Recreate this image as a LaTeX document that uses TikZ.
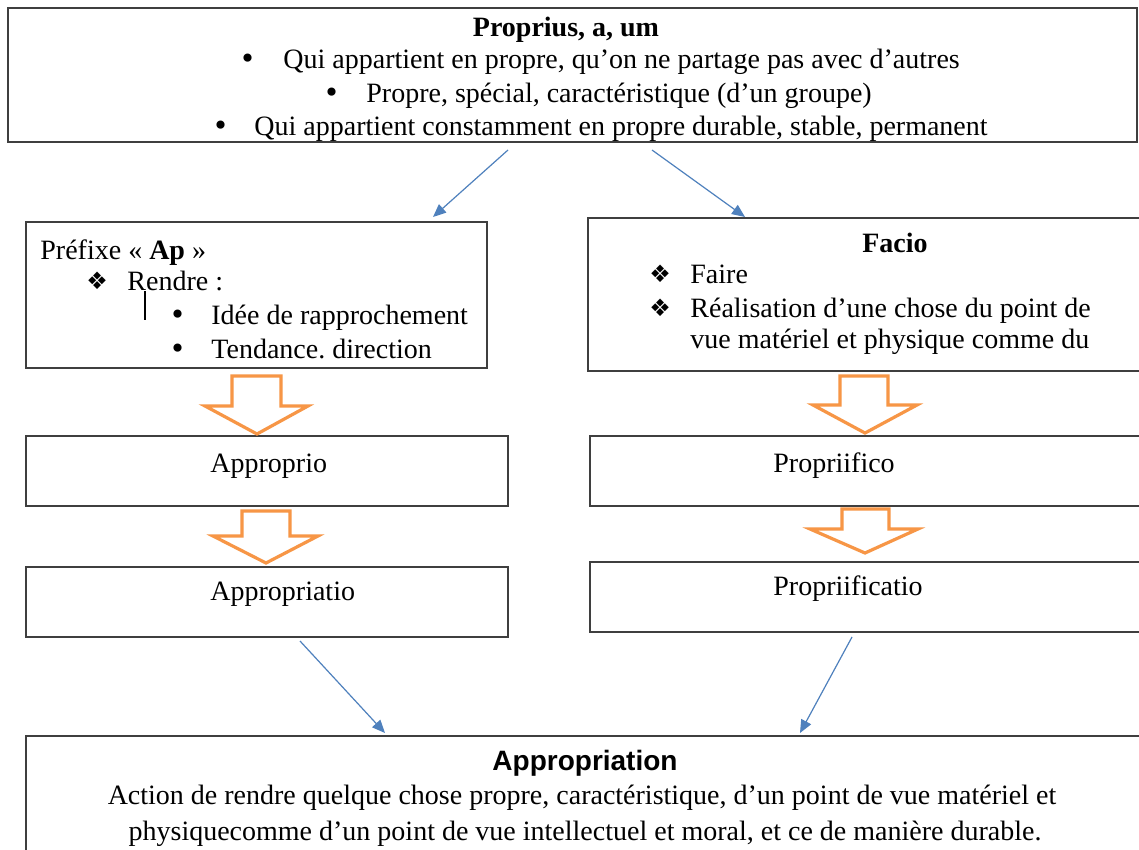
\documentclass[tikz,border=0pt]{standalone}
\usepackage{fontspec}
\setmainfont{Liberation Serif}
\newfontfamily\arialfont{Liberation Sans}
\newfontfamily\symfont{DejaVu Sans}
\usetikzlibrary{arrows.meta,fit}
\frenchspacing

\definecolor{boxline}{HTML}{3F3F3F}
\definecolor{flowblue}{HTML}{4F81BD}
\definecolor{blockorange}{HTML}{F79646}

\tikzset{
  box/.style={draw=boxline, line width=1pt, rectangle, inner sep=0pt},
  txt/.style={inner sep=0pt, anchor=base west, yshift=-1pt, font=\fontsize{14}{16}\selectfont},
  ctxt/.style={inner sep=0pt, anchor=base, yshift=-1pt, font=\fontsize{14}{16}\selectfont},
  link/.style={draw=flowblue, line width=0.6pt, -{Triangle[length=6.5pt,width=5.5pt]}},
  blockarrow/.style={draw=blockorange, line width=1.6pt, fill=white, line join=miter},
}
\newcommand{\diam}{{\symfont\fontsize{12}{14}\selectfont ❖}}
\newcommand{\bul}{{\symfont\fontsize{14}{16}\selectfont •}}

\begin{document}
\begin{tikzpicture}[x=0.5pt, y=-0.5pt]
\clip (0,0) rectangle (1139,850);
\fill[white] (0,0) rectangle (1139,850);

% corner points of the boxes
\coordinate (t1) at (8,8);     \coordinate (t2) at (1137,142);
\coordinate (l1) at (26,222);  \coordinate (l2) at (487,368);
\coordinate (r1) at (588,218); \coordinate (r2) at (1150,371);
\coordinate (a1) at (26,436);  \coordinate (a2) at (508,506);
\coordinate (b1) at (26,567);  \coordinate (b2) at (508,637);
\coordinate (c1) at (590,436); \coordinate (c2) at (1150,506);
\coordinate (d1) at (590,562); \coordinate (d2) at (1150,632);
\coordinate (e1) at (26,736);  \coordinate (e2) at (1150,870);

\node[box, fit=(t1)(t2), line width=1.3pt] (proprius) {};
\node[box, fit=(l1)(l2)] (prefixe) {};
\node[box, fit=(r1)(r2)] (facio) {};
\node[box, fit=(a1)(a2)] (approprio) {};
\node[box, fit=(b1)(b2)] (appropriatio) {};
\node[box, fit=(c1)(c2)] (propriifico) {};
\node[box, fit=(d1)(d2)] (propriificatio) {};
\node[box, fit=(e1)(e2)] (appropriation) {};

% top box
\node[ctxt, font=\fontsize{14}{16}\bfseries] (tt) at (566,35) {Proprius, a, um};
\node[txt] at (239,67) {\bul};
\node[txt] (tl1) at (283,67) {Qui appartient en propre, qu’on ne partage pas avec d’autres};
\node[txt] at (323,101) {\bul};
\node[txt] (tl2) at (366,101) {Propre, spécial, caractéristique (d’un groupe)};
\node[txt] at (212,134) {\bul};
\node[txt] (tl3) at (254,134) {Qui appartient constamment en propre durable, stable, permanent};

% prefix box
\node[txt] at (40,257) {Préfixe « \textbf{Ap} »};
\node[txt] at (86,287) {\diam};
\node[txt] at (127,288) {Rendre :};
\node[txt] at (169,322) {\bul};
\node[txt] at (211,322) {Idée de rapprochement};
\node[txt] at (169,356) {\bul};
\node[txt] at (211,356) {Tendance. direction};
\draw[line width=0.6pt] (145,291) -- (145,320);

% facio box
\node[ctxt, font=\fontsize{14}{16}\bfseries] at (895,250) {Facio};
\node[txt] at (649,280) {\diam};
\node[txt] at (690,281) {Faire};
\node[txt] at (649,314) {\diam};
\node[txt] at (690,315) {Réalisation d’une chose du point de};
\node[txt] at (690,346) {vue matériel et physique comme du};

% middle boxes
\node[txt] at (210,470) {Approprio};
\node[txt] at (210,598) {Appropriatio};
\node[txt] at (773,470) {Propriifico};
\node[txt] at (773,593) {Propriificatio};

% bottom box
\node[ctxt, font=\arialfont\fontsize{14}{16}\bfseries\selectfont] at (585,768) {Appropriation};
\node[ctxt] at (582,802) {Action de rendre quelque chose propre, caractéristique, d’un point de vue matériel et};
\node[ctxt] at (585,838) {physiquecomme d’un point de vue intellectuel et moral, et ce de manière durable.};

% block arrows between the stages
\draw[blockarrow] (232,376) -- (281,376) -- (281,406) -- (308,406) -- (257,434) -- (205,406) -- (232,406) -- cycle;
\draw[blockarrow] (242,511) -- (290,511) -- (290,536) -- (318,536) -- (266,563) -- (213,536) -- (242,536) -- cycle;
\draw[blockarrow] (840,376) -- (888,376) -- (888,405) -- (917,405) -- (865,433) -- (813,405) -- (840,405) -- cycle;
\draw[blockarrow] (842,509) -- (889,509) -- (889,529) -- (918,529) -- (865,553) -- (810,529) -- (842,529) -- cycle;

% thin connectors
\coordinate (s1) at (508,150); \coordinate (e1a) at (433,217);
\coordinate (s2) at (652,150); \coordinate (e2a) at (745,217);
\coordinate (s3) at (300,641); \coordinate (e3a) at (385,733);
\coordinate (s4) at (852,637); \coordinate (e4a) at (800,733);
\draw[link] (s1) -- (e1a);
\draw[link] (s2) -- (e2a);
\draw[link] (s3) -- (e3a);
\draw[link] (s4) -- (e4a);
\end{tikzpicture}
\end{document}
